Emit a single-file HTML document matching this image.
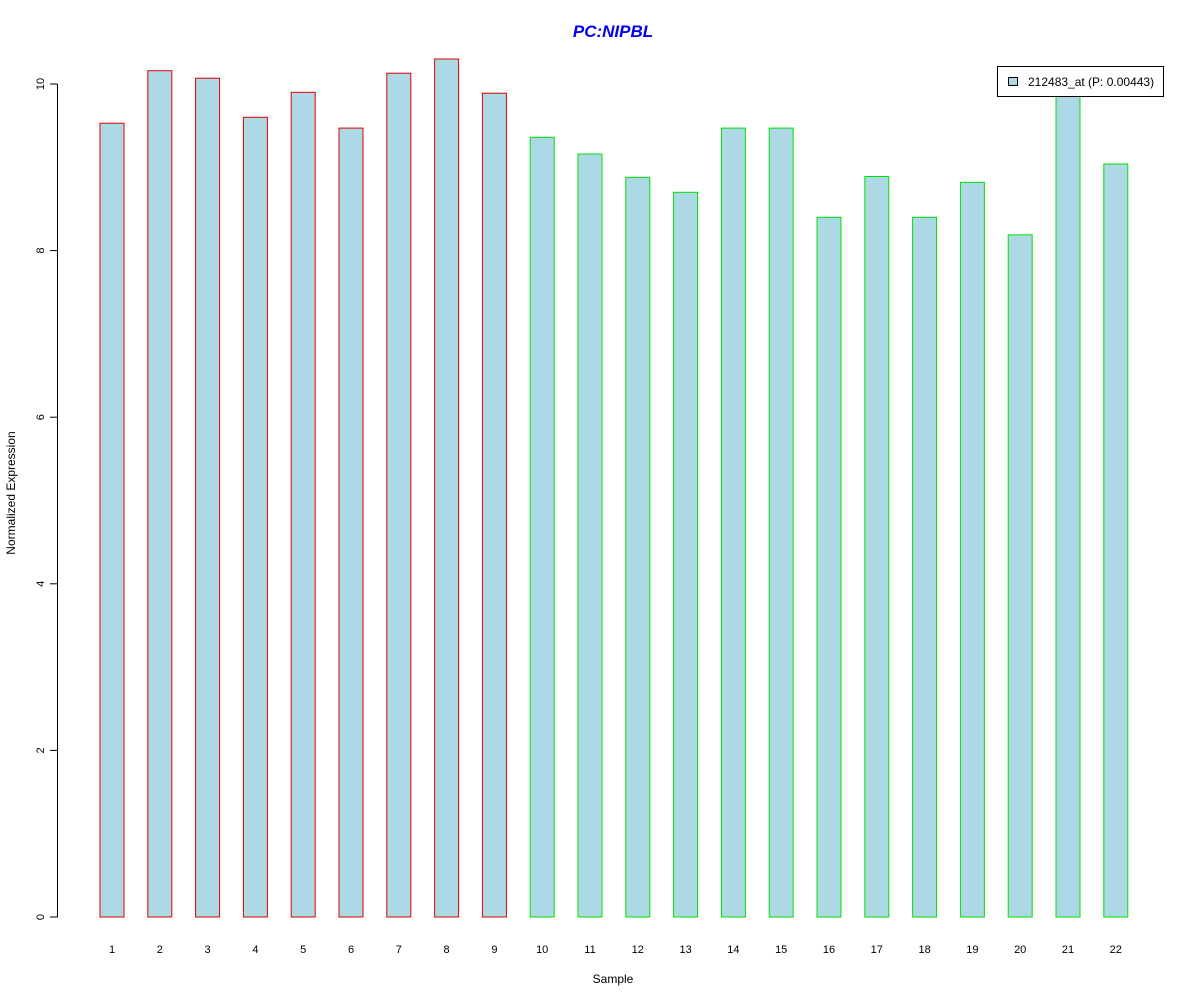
<!DOCTYPE html>
<html><head><meta charset="utf-8"><style>
html,body{margin:0;padding:0;background:#fff}
svg{display:block;font-family:"Liberation Sans",Arial,sans-serif}
</style></head><body>
<svg id="chart" width="1200" height="1000" viewBox="0 0 1200 1000">
<text x="613" y="37" text-anchor="middle" font-size="17" font-weight="bold" font-style="italic" fill="#0000ee">PC:NIPBL</text>
<text transform="translate(15,493) rotate(-90)" text-anchor="middle" font-size="12">Normalized Expression</text>
<text x="613" y="983" text-anchor="middle" font-size="12">Sample</text>
<g id="bars"></g>
<g id="yaxis"></g>
<g id="xlabels"></g>
<g>
<rect x="997.5" y="66.5" width="166" height="30" fill="#fff" stroke="#000"/>
<rect x="1008.5" y="77.5" width="9" height="8" fill="#add8e6" stroke="#000"/>
<text x="1028" y="86" font-size="12">212483_at (P: 0.00443)</text>
</g>
</svg>
<script>
const categories = ["1","2","3","4","5","6","7","8","9","10","11","12","13","14","15","16","17","18","19","20","21","22"];
const values = [9.53,10.16,10.07,9.60,9.90,9.47,10.13,10.30,9.89,9.36,9.16,8.88,8.70,9.47,9.47,8.40,8.89,8.40,8.82,8.19,10.0,9.04];
const groups = ["a","a","a","a","a","a","a","a","a","b","b","b","b","b","b","b","b","b","b","b","b","b"];
const yTicks = [0,2,4,6,8,10];
const NS="http://www.w3.org/2000/svg";
const y0=917, pxPerUnit=83.3;
const yScale=v=>y0-v*pxPerUnit;
const xCenter=i=>112+i*47.8;
const bw=24;
const bars=document.getElementById('bars');
const xl=document.getElementById('xlabels');
categories.forEach((c,i)=>{
  const r=document.createElementNS(NS,'rect');
  
  
  const top=yScale(values[i]);
  r.setAttribute('x',(xCenter(i)-bw/2).toFixed(1));
  r.setAttribute('y',top.toFixed(1));
  r.setAttribute('width',bw);
  r.setAttribute('height',(y0-top).toFixed(1));
  r.setAttribute('fill','#add8e6');
  r.setAttribute('stroke',groups[i]==="a"?'#e00000':'#00e000');
  bars.appendChild(r);
  const t=document.createElementNS(NS,'text');
  
  
  t.setAttribute('x',xCenter(i).toFixed(1));
  t.setAttribute('y','953');
  t.setAttribute('text-anchor','middle');
  t.setAttribute('font-size','11');
  t.textContent=c;
  xl.appendChild(t);
});
const ya=document.getElementById('yaxis');
const line=document.createElementNS(NS,'line');


line.setAttribute('x1','57.5');line.setAttribute('x2','57.5');
line.setAttribute('y1',yScale(yTicks[0]));line.setAttribute('y2',yScale(yTicks[yTicks.length-1]));
line.setAttribute('stroke','#000');
ya.appendChild(line);
yTicks.forEach(v=>{
  const y=yScale(v);
  const tk=document.createElementNS(NS,'line');
  
  
  tk.setAttribute('x1','50');tk.setAttribute('x2','57.5');
  tk.setAttribute('y1',y);tk.setAttribute('y2',y);
  tk.setAttribute('stroke','#000');
  ya.appendChild(tk);
  const t=document.createElementNS(NS,'text');
  
  
  t.setAttribute('transform','translate(44,'+y+') rotate(-90)');
  t.setAttribute('text-anchor','middle');
  t.setAttribute('font-size','11');
  t.textContent=v;
  ya.appendChild(t);
});
</script>
</body></html>
